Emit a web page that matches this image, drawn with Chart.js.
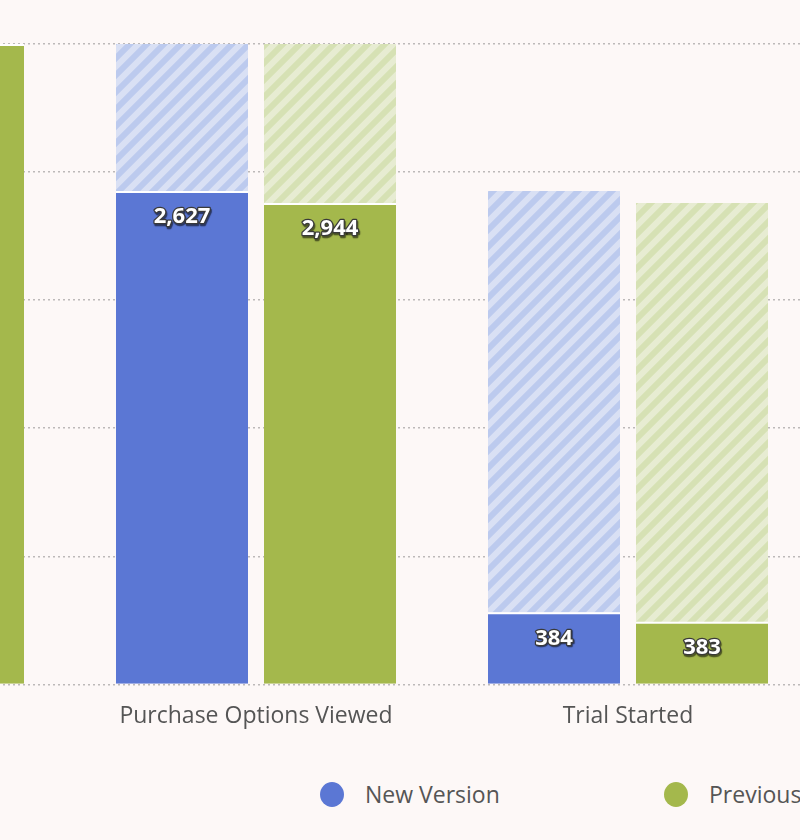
<!DOCTYPE html>
<html>
<head>
<meta charset="utf-8">
<script src="https://cdn.jsdelivr.net/npm/chart.js@4.4.1/dist/chart.umd.min.js"></script>
<style>
  html, body { margin: 0; padding: 0; background: #fdf8f7; }
  #frame { position: relative; width: 800px; height: 840px; overflow: hidden; background: #fdf8f7; }
  #wrap { position: absolute; left: -302px; top: 0; width: 1116px; height: 762px; }
  #legend { position: absolute; top: 781px; left: 0; width: 800px; height: 26px;
            font-family: "Open Sans", sans-serif; font-size: 23px; color: #555; }
  .item { position: absolute; top: 0; display: flex; align-items: center; height: 26px; }
  .dot { width: 24px; height: 25px; border-radius: 50%; margin-right: 21px; }
</style>
</head>
<body>
<div id="frame">
  <div id="wrap"><canvas id="funnel"></canvas></div>
  <div id="legend">
    <div class="item" style="left:320px"><span class="dot" style="background:#5b77d4"></span>New Version</div>
    <div class="item" style="left:664px"><span class="dot" style="background:#a4b84c"></span>Previous</div>
  </div>
</div>
<script>
// funnel steps (first step sits off the left edge of the crop)
const steps = ['', 'Purchase Options Viewed', 'Trial Started'];
const newVersion = [3410, 2627, 384];
const previous = [3917, 2944, 383];

const toPct = arr => arr.map(v => v / arr[0] * 100);
const toDrop = pct => pct.map((v, i) => i === 0 ? 0 : pct[i - 1] - v);

function stripes(light, dark) {
  const s = 17;
  const c = document.createElement('canvas');
  c.width = s; c.height = s;
  const g = c.getContext('2d');
  g.fillStyle = light;
  g.fillRect(0, 0, s, s);
  g.strokeStyle = dark;
  g.lineWidth = 6;
  g.lineCap = 'square';
  [[0, s, s, 0], [-s / 2, s / 2, s / 2, -s / 2], [s / 2, s * 1.5, s * 1.5, s / 2]].forEach(([a, b, c2, d]) => {
    g.beginPath(); g.moveTo(a, b); g.lineTo(c2, d); g.stroke();
  });
  return g.createPattern(c, 'repeat');
}

const newPct = toPct(newVersion);
const prevPct = toPct(previous);

const valueLabels = {
  id: 'valueLabels',
  afterDatasetsDraw(chart) {
    const ctx = chart.ctx;
    ctx.save();
    ctx.font = 'bold 22px "Open Sans", sans-serif';
    ctx.textAlign = 'center';
    ctx.textBaseline = 'middle';
    [[0, newVersion], [2, previous]].forEach(([di, counts]) => {
      chart.getDatasetMeta(di).data.forEach((bar, i) => {
        const txt = counts[i].toLocaleString('en-US');
        const y = bar.y + 26;
        ctx.shadowColor = 'rgba(0,0,0,0.55)';
        ctx.shadowOffsetX = 1; ctx.shadowOffsetY = 1.5; ctx.shadowBlur = 1;
        ctx.lineWidth = 2.5;
        ctx.strokeStyle = '#3a3a3a';
        ctx.lineJoin = 'round';
        ctx.strokeText(txt, bar.x, y);
        ctx.shadowColor = 'transparent';
        ctx.fillStyle = '#ffffff';
        ctx.fillText(txt, bar.x, y);
      });
    });
    ctx.restore();
  }
};

const solidBorder = { top: 2, right: 0, bottom: 0, left: 0 };

new Chart(document.getElementById('funnel'), {
  type: 'bar',
  data: {
    labels: steps,
    datasets: [
      { label: 'New Version', data: newPct, stack: 'new', backgroundColor: '#5b77d4', borderColor: '#ffffff', borderWidth: solidBorder, borderSkipped: false },
      { label: 'New Version drop-off', data: toDrop(newPct), stack: 'new', backgroundColor: stripes('#d9e0f4', '#bccaee'), borderWidth: 0 },
      { label: 'Previous', data: prevPct, stack: 'prev', backgroundColor: '#a4b84c', borderColor: '#ffffff', borderWidth: solidBorder, borderSkipped: false },
      { label: 'Previous drop-off', data: toDrop(prevPct), stack: 'prev', backgroundColor: stripes('#e7ecd2', '#d6e1b4'), borderWidth: 0 }
    ]
  },
  options: {
    responsive: true,
    maintainAspectRatio: false,
    animation: false,
    layout: { padding: { top: 44, bottom: 14, left: 0, right: 0 } },
    categoryPercentage: 0.7957,
    barPercentage: 0.892,
    plugins: { legend: { display: false }, tooltip: { enabled: false } },
    scales: {
      x: {
        stacked: true,
        grid: { display: false, drawTicks: false },
        border: { display: false },
        ticks: { color: '#555', padding: 18, font: { family: '"Open Sans", sans-serif', size: 23 }, maxRotation: 0 }
      },
      y: {
        stacked: true,
        min: 0, max: 100,
        ticks: { display: false, stepSize: 20 },
        border: { display: false, dash: [2, 3] },
        grid: { color: '#bdb9b9', lineWidth: 1.5, drawTicks: false }
      }
    }
  },
  plugins: [valueLabels]
});
</script>
</body>
</html>
